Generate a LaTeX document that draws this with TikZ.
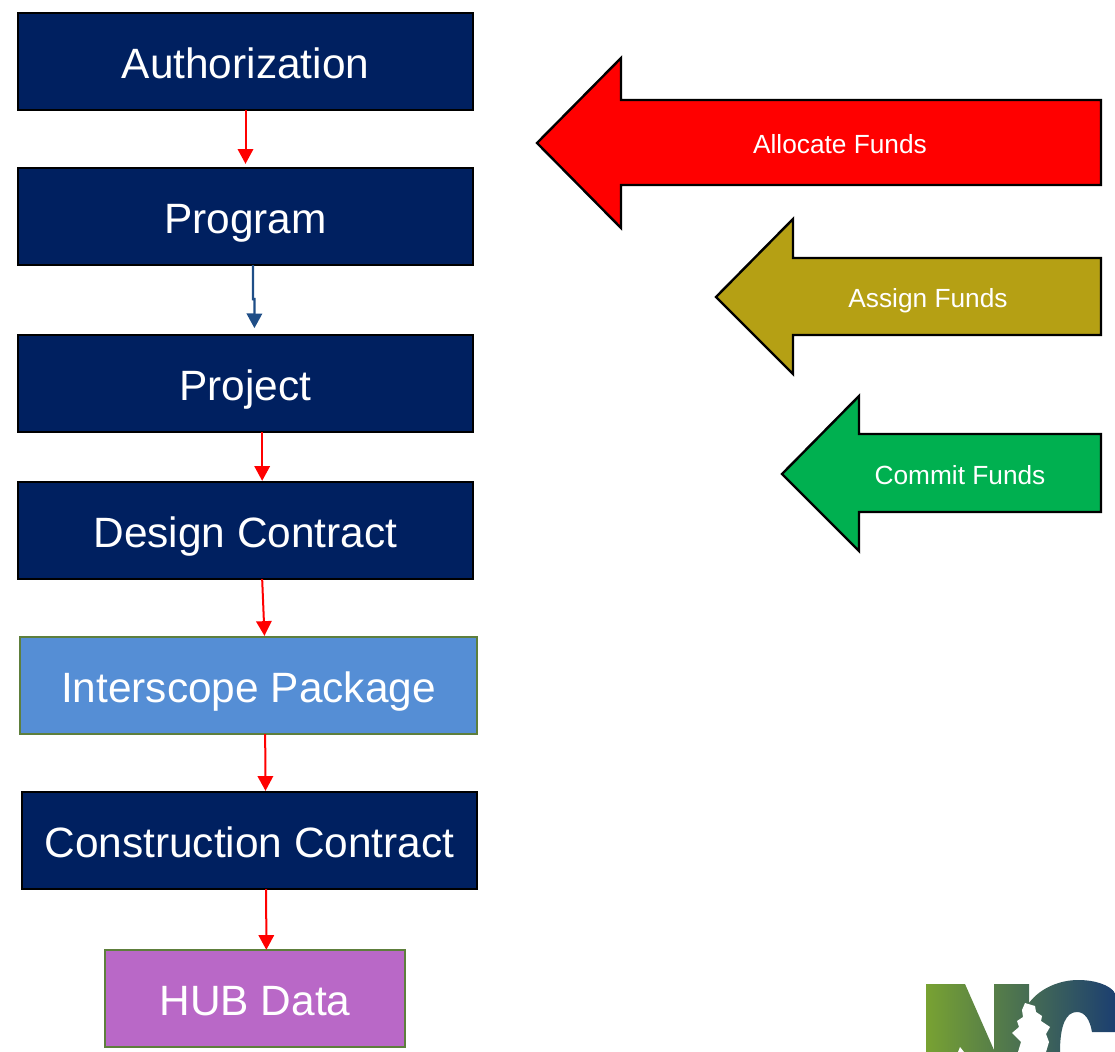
\documentclass[tikz,border=0pt]{standalone}
\usepackage{fontspec}
\setmainfont{Liberation Sans}
\usepackage{xcolor}
\definecolor{navybox}{HTML}{002060}
\definecolor{bluebox}{HTML}{558ED5}
\definecolor{purplebox}{HTML}{B968C7}
\definecolor{oliveline}{HTML}{5E7F3C}
\definecolor{assigngold}{HTML}{B5A014}
\definecolor{commitgreen}{HTML}{00B050}
\definecolor{bluearrow}{HTML}{1F4E87}
\definecolor{logogreen}{HTML}{78A232}
\definecolor{logoteal}{HTML}{2F6458}
\definecolor{logoblue}{HTML}{1C3F70}
\usetikzlibrary{arrows.meta,calc}
\tikzset{
  flowbox/.style={draw=black,line width=1.8pt,outer sep=0pt,fill=navybox,text=white,minimum width=341pt,minimum height=73pt,inner sep=0pt,font=\fontsize{31.8pt}{36pt}\selectfont,text height=26pt,text depth=0pt},
  softbox/.style={flowbox,draw=oliveline,minimum width=342.5pt},
  fundarrow/.style={draw=black,line width=1.8pt,line join=miter},
  fundlabel/.style={text=white,inner sep=0pt,font=\fontsize{19.7pt}{24pt}\selectfont,text height=14.3pt,text depth=0.2pt},
  redflow/.style={draw=red,line width=1.5pt,-{Triangle[length=11pt,width=11.5pt]}},
  blueflow/.style={draw=bluearrow,line width=1.8pt,-{Triangle[length=11pt,width=11.5pt]}}
}
\begin{document}
\begin{tikzpicture}[x=0.75pt,y=-0.75pt]
    \useasboundingbox (0,0) rectangle (1115,1052);
    % boxes
    \node[flowbox] (authorization) at (245.5,61.5) {Authorization};
    \node[flowbox] (program) at (245.5,216.5) {Program};
    \node[flowbox] (project) at (245.5,383.5) {Project};
    \node[flowbox] (design) at (245.5,530.5) {Design Contract};
    \node[softbox,fill=bluebox] (interscope) at (248.5,685.5) {Interscope Package};
    \node[flowbox] (construction) at (249.5,840.5) {Construction Contract};
    \node[softbox,fill=purplebox,minimum width=225pt] (hub) at (255,998.5) {HUB Data};
    % connectors
    \draw[redflow] (authorization.south) -- ([yshift=3pt]program.north);
    \draw[blueflow] ([xshift=5.6pt]program.south) -- ++(0,34) -- ++(1.5,0) -- ([xshift=6.7pt,yshift=5pt]project.north);
    \draw[redflow] ([xshift=12.5pt]project.south) -- ([xshift=12.5pt,yshift=0.75pt]design.north);
    \draw[redflow] ([xshift=12.5pt]design.south) -- ([xshift=12pt,yshift=0.75pt]interscope.north);
    \draw[redflow] ([xshift=12.5pt]interscope.south) -- ([xshift=12pt,yshift=0.75pt]construction.north);
    \draw[redflow] ([xshift=12.5pt]construction.south) -- ([xshift=8.5pt]hub.north);
    % fund arrows
    \draw[fundarrow,fill=red] (537,143) -- (621,58) -- (621,100) -- (1101,100) -- (1101,185) -- (621,185) -- (621,228) -- cycle;
    \draw[fundarrow,fill=assigngold] (716,297) -- (793,219) -- (793,258) -- (1101,258) -- (1101,335) -- (793,335) -- (793,374) -- cycle;
    \draw[fundarrow,fill=commitgreen] (782,474) -- (859,396) -- (859,434) -- (1101,434) -- (1101,512) -- (859,512) -- (859,551) -- cycle;
    \node[fundlabel] (allocate) at (840,144) {Allocate Funds};
    \node[fundlabel] (assign) at (928,298) {Assign Funds};
    \node[fundlabel] (commit) at (960,475) {Commit Funds};
    % logo
    \begin{scope}
        \clip (900,960) rectangle (1115,1052);
        \shade[left color=logogreen,middle color=logoteal,right color=logoblue]
            (926,984) -- (965,984) -- (994,1050) -- (994,984) -- (1029,984) -- (1029,1003)
            .. controls (1040,988) and (1060,980) .. (1078,980)
            .. controls (1095,980) and (1110,985) .. (1115,993)
            -- (1115,1032) -- (1092,1032)
            .. controls (1090,1020) and (1085,1012) .. (1077,1012)
            .. controls (1066,1012) and (1060,1025) .. (1060,1052)
            -- (926,1052) -- cycle;
        \fill[white] (958,1052) -- (960,1047) -- (964,1052) -- cycle;
        \fill[white] (1025,1003) -- (1035,1006) -- (1036,1012) -- (1042,1016) -- (1041,1021) -- (1050,1027) -- (1046,1034)
            -- (1049,1042) -- (1046,1052) -- (1018,1052) -- (1021,1042) -- (1012,1033) -- (1019,1027) -- (1017,1021) -- (1023,1017) -- (1022,1010) -- cycle;
    \end{scope}
\end{tikzpicture}
\end{document}
